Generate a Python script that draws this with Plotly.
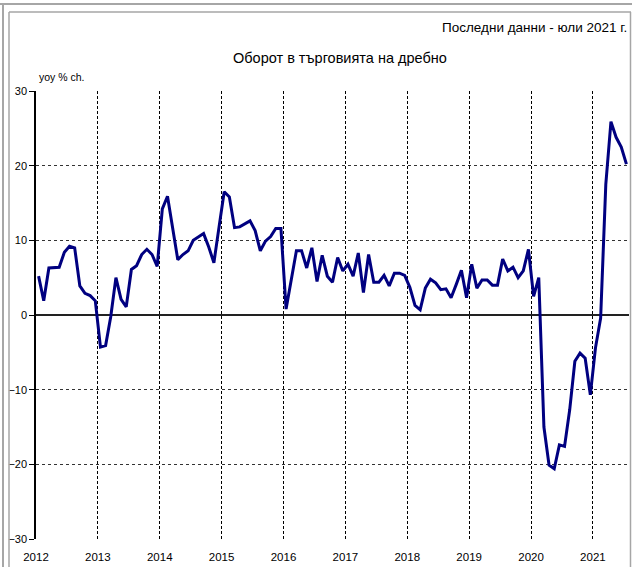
import plotly.graph_objects as go

# ---- data (yoy % change, monthly, Jan 2012 - Jul 2021) ----
start_year = 2012
tick_years = [2012, 2013, 2014, 2015, 2016, 2017, 2018, 2019, 2020, 2021]
tick_labels = [str(y) for y in tick_years]

v2012 = [5.2, 1.9, 6.3, 6.3, 6.4, 8.4, 9.2, 9.0, 3.9, 2.9, 2.6, 1.9]
v2013 = [-4.3, -4.1, -0.2, 5.0, 2.1, 1.1, 6.1, 6.6, 8.1, 8.8, 8.1, 6.5]
v2014 = [14.2, 15.9, 11.5, 7.4, 8.1, 8.6, 10.0, 10.4, 10.9, 9.1, 7.0, 11.8]
v2015 = [16.5, 15.8, 11.7, 11.8, 12.2, 12.6, 11.3, 8.6, 9.9, 10.5, 11.6, 11.6]
v2016 = [0.8, 4.5, 8.6, 8.6, 6.3, 9.0, 4.5, 8.0, 5.2, 4.4, 7.7, 5.9]
v2017 = [6.8, 5.2, 8.3, 3.0, 8.1, 4.4, 4.4, 5.3, 3.9, 5.6, 5.6, 5.3]
v2018 = [3.7, 1.3, 0.7, 3.6, 4.8, 4.3, 3.4, 3.5, 2.3, 4.1, 6.0, 2.3]
v2019 = [6.8, 3.6, 4.7, 4.7, 4.0, 4.0, 7.5, 5.9, 6.4, 5.0, 5.9, 8.8]
v2020 = [2.5, 5.0, -15.0, -20.1, -20.6, -17.4, -17.6, -12.7, -6.2, -5.1, -5.8, -10.7]
v2021 = [-4.4, -0.4, 17.5, 25.9, 23.8, 22.5, 20.2]

values = v2012 + v2013 + v2014 + v2015 + v2016 + v2017 + v2018 + v2019 + v2020 + v2021
n = len(values)
# month centres on a decimal-year axis
xpos = [start_year + (i + 0.5) / 12 for i in range(n)]

FONT = "Liberation Sans, Arial, sans-serif"

W, H = 632, 567
L, R, T, B = 36, 3, 91, 28
pw, ph = W - L - R, H - T - B


def fx(p):
    return (p - L) / pw


def fy(p):
    return (H - B - p) / ph


fig = go.Figure()
fig.add_trace(go.Scatter(
    x=xpos, y=values, mode="lines",
    line=dict(color="#000080", width=3),
    hoverinfo="skip", showlegend=False,
))

frame = "#a6a6a6"
shapes = [
    dict(type="line", xref="paper", yref="paper", x0=fx(0), x1=fx(W), y0=fy(4), y1=fy(4),
         line=dict(color=frame, width=2)),
    dict(type="line", xref="paper", yref="paper", x0=fx(3), x1=fx(3), y0=fy(4), y1=fy(H),
         line=dict(color=frame, width=2)),
    dict(type="line", xref="paper", yref="paper", x0=fx(9), x1=fx(9), y0=fy(12), y1=fy(H),
         line=dict(color=frame, width=1.5)),
    dict(type="line", xref="paper", yref="paper", x0=fx(9), x1=fx(631), y0=fy(12), y1=fy(12),
         line=dict(color=frame, width=1.5)),
    dict(type="line", xref="paper", yref="paper", x0=fx(630.5), x1=fx(630.5), y0=fy(12), y1=fy(H),
         line=dict(color=frame, width=1.5)),
]

annotations = [
    dict(text="Оборот в търговията на дребно", xref="paper", yref="paper",
         x=fx(340), y=fy(58), xanchor="center", yanchor="middle", showarrow=False,
         font=dict(family=FONT, size=14.5, color="black")),
    dict(text="Последни данни - юли 2021 г.", xref="paper", yref="paper",
         x=fx(629), y=fy(27), xanchor="right", yanchor="middle", showarrow=False,
         font=dict(family=FONT, size=13.5, color="black")),
    dict(text="yoy % ch.", xref="paper", yref="paper",
         x=fx(37), y=fy(77), xanchor="left", yanchor="middle", showarrow=False,
         font=dict(family=FONT, size=10.5, color="black")),
]

fig.update_layout(
    width=W, height=H,
    margin=dict(l=L, r=R, t=T, b=B, pad=0),
    paper_bgcolor="white", plot_bgcolor="white",
    font=dict(family=FONT, size=11, color="black"),
    shapes=shapes, annotations=annotations,
    xaxis=dict(
        range=[start_year, start_year + n / 12],
        tickmode="array", tickvals=tick_years, ticktext=tick_labels,
        showgrid=True, gridcolor="black", gridwidth=1, griddash="3px,2px",
        ticks="", showline=False, zeroline=False,
        ticklabelstandoff=9,
        tickfont=dict(family=FONT, size=11.5, color="black"),
    ),
    yaxis=dict(
        range=[-30, 30], tickmode="linear", tick0=-30, dtick=10,
        showgrid=True, gridcolor="#333333", gridwidth=1, griddash="dot",
        zeroline=True, zerolinecolor="#222222", zerolinewidth=2,
        showline=True, linecolor="black", linewidth=1.5,
        ticks="outside", ticklen=5, tickcolor="black", tickwidth=1,
        tickfont=dict(family=FONT, size=11, color="black"),
    ),
)

fig.write_html(
    "out.html",
    config={"displayModeBar": False},
    post_script="document.body.style.margin='0';document.body.style.overflow='hidden';",
)
